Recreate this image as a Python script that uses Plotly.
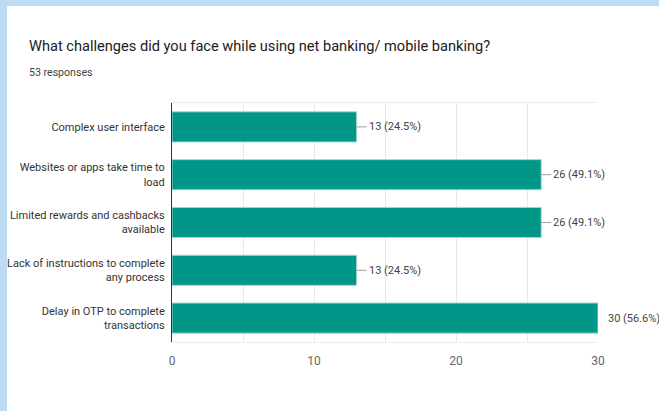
import plotly.graph_objects as go

# Survey question: challenges faced with net/mobile banking (53 responses)
categories = [
    "Complex user interface",
    "Websites or apps take time to<br>load",
    "Limited rewards and cashbacks<br>available",
    "Lack of instructions to complete<br>any process",
    "Delay in OTP to complete<br>transactions",
]
counts = [13, 26, 26, 13, 30]
percents = [24.5, 49.1, 49.1, 24.5, 56.6]
x_ticks = [0, 10, 20, 30]

TITLE = "What challenges did you face while using net banking/ mobile banking?"
SUBTITLE = "53 responses"

W, H = 659, 411
L, R, T, B = 172, 61, 103, 69
PW, PH = W - L - R, H - T - B

FONT = "Roboto, Arial, sans-serif"
TEAL = "#009688"

fig = go.Figure(
    go.Bar(
        x=counts,
        y=categories,
        orientation="h",
        width=0.63,
        marker=dict(color=TEAL, line=dict(color="#9fd8d0", width=1)),
        hoverinfo="skip",
    )
)

# Value labels with short leader lines from each bar end
for c, p, cat in zip(counts, percents, categories):
    label = f"{c} ({p}%)"
    if c >= max(x_ticks):
        fig.add_annotation(
            x=c, y=cat, text=label, showarrow=False,
            xanchor="left", xshift=8,
            font=dict(family=FONT, size=11, color="#444444"),
        )
    else:
        fig.add_annotation(
            x=c, y=cat, text=label, showarrow=True,
            arrowhead=0, arrowwidth=1, arrowcolor="#9e9e9e",
            ax=10, ay=0, xanchor="left",
            font=dict(family=FONT, size=11, color="#444444"),
        )

# Page frame: light blue strips along the top and left edges
def px_to_paper_x(px):
    return (px - L) / PW

def px_to_paper_y(py):
    return (H - B - py) / PH

frame = "#bddcf3"
fig.add_shape(type="rect", xref="paper", yref="paper", layer="below",
              x0=px_to_paper_x(0), x1=px_to_paper_x(W),
              y0=px_to_paper_y(6), y1=px_to_paper_y(0),
              line=dict(width=0), fillcolor=frame)
fig.add_shape(type="rect", xref="paper", yref="paper", layer="below",
              x0=px_to_paper_x(0), x1=px_to_paper_x(7),
              y0=px_to_paper_y(H), y1=px_to_paper_y(0),
              line=dict(width=0), fillcolor=frame)

# Title and response count
fig.add_annotation(xref="paper", yref="paper",
                   x=px_to_paper_x(27), y=px_to_paper_y(46),
                   xanchor="left", yanchor="middle", showarrow=False,
                   text=TITLE, font=dict(family=FONT, size=14.6, color="#212121"))
fig.add_annotation(xref="paper", yref="paper",
                   x=px_to_paper_x(27), y=px_to_paper_y(72),
                   xanchor="left", yanchor="middle", showarrow=False,
                   text=SUBTITLE, font=dict(family=FONT, size=10.6, color="#424242"))

fig.update_layout(
    width=W, height=H,
    margin=dict(l=L, r=R, t=T, b=B, pad=0, autoexpand=False),
    paper_bgcolor="white",
    plot_bgcolor="white",
    showlegend=False,
)
fig.update_xaxes(
    range=[0, 30],
    tickvals=x_ticks,
    ticktext=[str(v) for v in x_ticks],
    showgrid=True, gridcolor="#e8e8e8", gridwidth=1,
    minor=dict(dtick=5, tick0=0, showgrid=True, gridcolor="#e8e8e8"),
    showline=True, linecolor="#ececec", linewidth=1, mirror=True,
    zeroline=False, automargin=False,
    ticks="", ticklabelstandoff=8,
    tickfont=dict(family=FONT, size=12, color="#666666"),
    fixedrange=True,
)
fig.update_yaxes(
    autorange="reversed",
    showgrid=False, automargin=False,
    showline=True, linecolor="#333333", linewidth=1,
    ticks="", ticklabelstandoff=4,
    tickfont=dict(family=FONT, size=11, color="#333333"),
    fixedrange=True,
)

fig.write_html("out.html")
